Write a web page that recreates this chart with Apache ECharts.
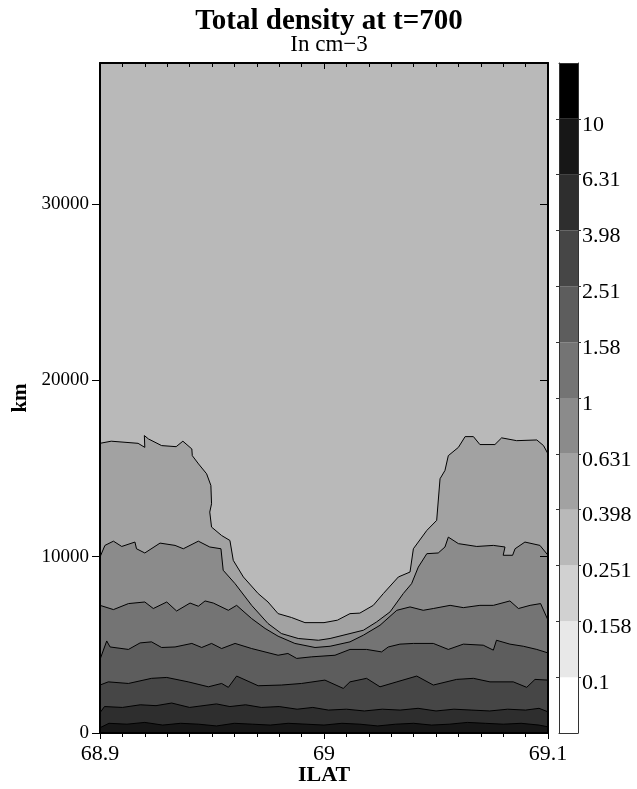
<!DOCTYPE html>
<html>
<head>
<meta charset="utf-8">
<script src="https://cdn.jsdelivr.net/npm/echarts@6/dist/echarts.min.js"></script>
<style>
  html, body { margin: 0; padding: 0; background: #fff; }
  #chart { width: 637px; height: 789px; }
</style>
</head>
<body>
<div id="chart"></div>
<script>
// contour levels (cm-3) shown on the colour bar
var levels = ['0.1', '0.158', '0.251', '0.398', '0.631', '1', '1.58', '2.51', '3.98', '6.31', '10'];
var yTicks = [0, 10000, 20000, 30000];

// contour lines, [ILAT, km]
var line0398 = [[68.900,16430],[68.905,16550],[68.917,16430],[68.920,16200],[68.9198,16870],[68.9216,16680],[68.9275,16300],[68.934,16240],[68.937,16550],[68.941,16110],[68.9412,15730],[68.944,15260],[68.9476,14700],[68.9495,14040],[68.9498,13000],[68.949,12530],[68.9498,11680],[68.9543,11200],[68.958,10920],[68.9595,9790],[68.964,8850],[68.9706,7910],[68.975,7430],[68.9795,6770],[68.9855,6550],[68.9915,6260],[69.000,6260],[69.006,6400],[69.0116,6770],[69.016,6800],[69.022,7240],[69.0265,7910],[69.0332,8850],[69.0384,9130],[69.0399,10450],[69.0459,11490],[69.0503,12060],[69.0518,14420],[69.054,14890],[69.0555,15730],[69.060,16200],[69.063,16810],[69.0667,16810],[69.0696,16360],[69.0763,16360],[69.0793,16740],[69.086,16580],[69.095,16620],[69.098,16300],[69.100,15830]];
var line0631 = [[68.900,9980],[68.9022,10640],[68.906,10880],[68.9097,10580],[68.9156,10830],[68.9163,10450],[68.920,10210],[68.9268,10770],[68.9335,10640],[68.9372,10450],[68.9439,10880],[68.949,10550],[68.954,10450],[68.955,9230],[68.9603,8470],[68.9677,7240],[68.975,6210],[68.981,5640],[68.9885,5360],[68.9975,5260],[69.0027,5360],[69.0116,5640],[69.0176,5830],[69.0235,6300],[69.0295,6870],[69.0354,7910],[69.0391,8470],[69.0421,9410],[69.0459,10170],[69.051,10210],[69.054,10550],[69.0555,11110],[69.060,10740],[69.0682,10580],[69.0756,10640],[69.0808,10550],[69.080,10080],[69.0842,10080],[69.0853,10450],[69.0897,10830],[69.0964,10640],[69.100,10080]];
var line1 = [[68.900,7240],[68.906,7000],[68.9127,7340],[68.920,7430],[68.9238,7060],[68.9298,7430],[68.9342,6920],[68.9402,7370],[68.9439,7190],[68.9469,7490],[68.9506,7370],[68.9573,6960],[68.961,7240],[68.9677,6490],[68.9737,5930],[68.9795,5490],[68.987,5080],[68.996,4850],[69.0027,4920],[69.0116,5170],[69.0176,5550],[69.025,6110],[69.0325,6960],[69.0384,7150],[69.0443,6960],[69.0488,7060],[69.0563,7240],[69.0622,7110],[69.0696,7240],[69.0756,7240],[69.083,7490],[69.0868,7060],[69.092,7240],[69.0967,7340],[69.100,6400]];
var line158 = [[68.900,4170],[68.903,5220],[68.9045,4880],[68.9127,4740],[68.9179,5110],[68.923,5170],[68.9275,4850],[68.9335,4880],[68.941,5080],[68.9454,4850],[68.9498,5080],[68.9543,4790],[68.9603,5080],[68.9677,4790],[68.9795,4410],[68.9839,4510],[68.9878,4230],[68.9945,4320],[69.0049,4410],[69.0116,4740],[69.019,4740],[69.0257,4600],[69.0287,4880],[69.0339,5040],[69.0399,5080],[69.0488,5080],[69.0555,4740],[69.0622,5040],[69.0711,4980],[69.0756,4700],[69.077,5260],[69.083,5040],[69.089,4920],[69.095,4740],[69.100,4540]];
var line251 = [[68.900,2720],[68.9037,2900],[68.9127,2810],[68.923,3100],[68.9298,3150],[68.9394,2900],[68.9484,2620],[68.9543,2810],[68.9573,2590],[68.961,3230],[68.9706,2680],[68.981,2720],[68.990,2810],[69.0004,3000],[69.0086,2530],[69.0116,2900],[69.019,3100],[69.025,2620],[69.0325,2900],[69.0414,3230],[69.0488,2720],[69.0592,3040],[69.0667,3100],[69.0741,2900],[69.0845,2900],[69.0905,2590],[69.0942,3040],[69.100,3000]];
var line398 = [[68.900,1150],[68.902,1500],[68.910,1450],[68.918,1600],[68.925,1550],[68.932,1700],[68.940,1450],[68.946,1550],[68.952,1650],[68.958,1500],[68.965,1600],[68.972,1450],[68.980,1500],[68.988,1350],[68.995,1450],[69.002,1300],[69.010,1350],[69.018,1250],[69.026,1350],[69.034,1300],[69.042,1400],[69.050,1250],[69.058,1350],[69.066,1300],[69.074,1250],[69.082,1350],[69.090,1300],[69.096,1400],[69.100,1200]];
var line631 = [[68.900,300],[68.904,550],[68.912,500],[68.920,600],[68.928,450],[68.936,550],[68.944,500],[68.952,400],[68.960,550],[68.968,500],[68.976,450],[68.984,550],[68.992,500],[69.000,450],[69.008,550],[69.016,500],[69.024,400],[69.032,500],[69.040,550],[69.048,450],[69.056,500],[69.064,600],[69.072,550],[69.080,500],[69.088,550],[69.096,450],[69.100,350]];

// which level each contour is, top to bottom
var contours = [
  { level: 3, data: line0398 },
  { level: 4, data: line0631 },
  { level: 5, data: line1 },
  { level: 6, data: line158 },
  { level: 7, data: line251 },
  { level: 8, data: line398 },
  { level: 9, data: line631 }
];

function gray(band) {
  var g = Math.round(255 * (1 - band / 11));
  return 'rgb(' + g + ',' + g + ',' + g + ')';
}

var font = 'Liberation Serif';
var chart = echarts.init(document.getElementById('chart'));

var series = [];
// filled bands: each contour fills down to 0 with the colour of the band under it
contours.forEach(function (c) {
  series.push({
    type: 'line',
    xAxisIndex: 0,
    yAxisIndex: 0,
    data: c.data,
    showSymbol: false,
    silent: true,
    lineStyle: { color: '#000', width: 1 },
    areaStyle: { color: gray(c.level + 1), opacity: 1, origin: 'start' }
  });
});
// colour bar
for (var i = 0; i < 12; i++) {
  series.push({
    type: 'bar',
    xAxisIndex: 2,
    yAxisIndex: 2,
    stack: 'bar',
    barWidth: '100%',
    silent: true,
    data: [1],
    itemStyle: { color: gray(i) }
  });
}

var blackLine = { show: true, onZero: false, lineStyle: { color: '#000', width: 2 } };
var thinLine = { show: true, onZero: false, lineStyle: { color: '#333', width: 1 } };
var barTicks = [1, 2, 3, 4, 5, 6, 7, 8, 9, 10, 11];

chart.setOption({
  animation: false,
  title: {
    text: 'Total density at t=700',
    subtext: 'In cm\u22123',
    left: 324,
    top: 2,
    textAlign: 'center',
    itemGap: -3,
    textStyle: { fontFamily: font, fontSize: 29, fontWeight: 'bold', color: '#000' },
    subtextStyle: { fontFamily: font, fontSize: 23, color: '#000' }
  },
  grid: [
    { left: 100, top: 63, width: 448, height: 670, show: true, backgroundColor: gray(3), borderWidth: 0,
      outerBoundsMode: 'none', containLabel: false },
    { left: 559, top: 63, width: 19, height: 670, outerBoundsMode: 'none', containLabel: false }
  ],
  xAxis: [
    {
      gridIndex: 0, type: 'value', position: 'bottom', min: 68.9, max: 69.1, interval: 0.1, z: 5,
      name: 'ILAT', nameLocation: 'middle', nameGap: 31, nameMoveOverlap: false,
      nameTextStyle: { fontFamily: font, fontSize: 22, fontWeight: 'bold', color: '#000' },
      axisLine: blackLine,
      axisTick: { show: true, length: 6, lineStyle: { color: '#000' } },
      minorTick: { show: true, splitNumber: 10, length: 4, lineStyle: { color: '#000' } },
      axisLabel: { fontFamily: font, fontSize: 22, color: '#000', margin: 10,
        formatter: function (v) { return String(+v.toFixed(2)); } },
      splitLine: { show: false }
    },
    {
      gridIndex: 0, type: 'value', position: 'top', min: 68.9, max: 69.1, interval: 0.1, z: 5,
      axisLine: blackLine,
      axisTick: { show: true, inside: true, length: 6, lineStyle: { color: '#000' } },
      minorTick: { show: true, splitNumber: 10, length: 4, lineStyle: { color: '#000' } },
      axisLabel: { show: false },
      splitLine: { show: false }
    },
    {
      gridIndex: 1, type: 'category', data: ['c'], position: 'bottom', z: 5,
      axisLine: thinLine, axisTick: { show: false }, axisLabel: { show: false }
    },
    {
      gridIndex: 1, type: 'category', data: ['c'], position: 'top', z: 5,
      axisLine: thinLine, axisTick: { show: false }, axisLabel: { show: false }
    }
  ],
  yAxis: [
    {
      gridIndex: 0, type: 'value', position: 'left', min: 0, max: 38000, interval: 10000, z: 5,
      name: 'km', nameLocation: 'middle', nameGap: 67,
      nameTextStyle: { fontFamily: font, fontSize: 21, fontWeight: 'bold', color: '#000' },
      axisLine: blackLine,
      axisTick: { show: true, length: 8, lineStyle: { color: '#000' }, customValues: yTicks },
      axisLabel: { fontFamily: font, fontSize: 19, color: '#000', margin: 11, customValues: yTicks,
        formatter: function (v) { return String(v); } },
      splitLine: { show: false }
    },
    {
      gridIndex: 0, type: 'value', position: 'right', min: 0, max: 38000, interval: 10000, z: 5,
      axisLine: blackLine,
      axisTick: { show: true, inside: true, length: 8, lineStyle: { color: '#000' }, customValues: yTicks },
      axisLabel: { show: false },
      splitLine: { show: false }
    },
    {
      gridIndex: 1, type: 'value', position: 'right', min: 0, max: 12, interval: 1, z: 5,
      axisLine: thinLine,
      axisTick: { show: true, length: 3, lineStyle: { color: '#333' }, customValues: barTicks },
      axisLabel: { fontFamily: font, fontSize: 22, color: '#000', margin: 4,
        verticalAlign: 'top', lineHeight: 12,
        customValues: barTicks,
        formatter: function (v) { return levels[v - 1] || ''; } },
      splitLine: { show: false }
    },
    {
      gridIndex: 1, type: 'value', position: 'left', min: 0, max: 12, interval: 1, z: 5,
      axisLine: thinLine,
      axisTick: { show: true, length: 3, lineStyle: { color: '#333' }, customValues: barTicks },
      axisLabel: { show: false },
      splitLine: { show: false }
    }
  ],
  series: series
});
</script>
</body>
</html>
